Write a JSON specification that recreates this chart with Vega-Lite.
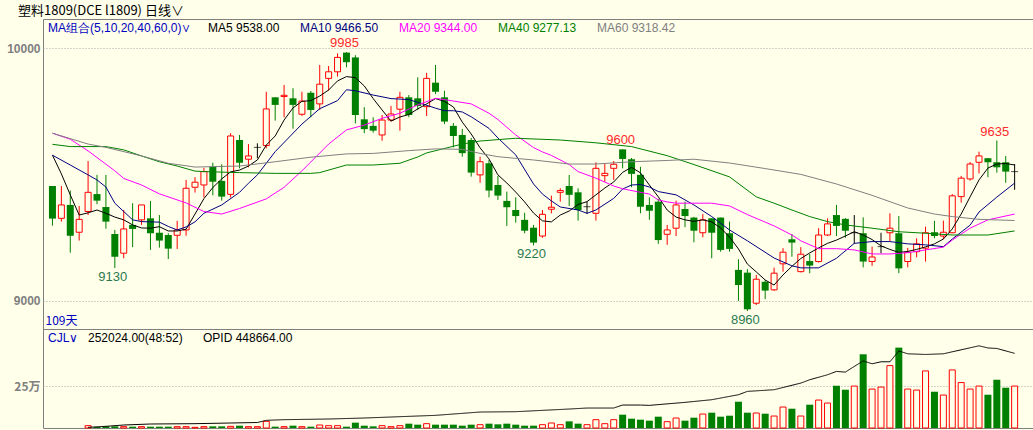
{
"$schema": "https://vega.github.io/schema/vega-lite/v6.json",
"autosize": "none",
"width": 990,
"height": 409,
"padding": {"left": 43, "top": 19, "right": 0, "bottom": 2},
"background": "#ffffea",
"config": {
  "view": {"stroke": "#808080", "strokeWidth": 1},
  "font": "Liberation Sans",
  "legend": {"labelFont": "Liberation Sans", "titleFont": "Liberation Sans", "labelFontSize": 12, "titleFontSize": 12, "titleFontWeight": "normal", "symbolSize": 0, "symbolOpacity": 0, "symbolStrokeWidth": 0, "labelOffset": 0, "padding": 0, "rowPadding": 0, "titleOrient": "left", "direction": "horizontal", "orient": "none", "titleLimit": 300, "labelLimit": 300, "columnPadding": 8, "titlePadding": 5}
},
"title": {"text": "塑料1809(DCE l1809)  日线∨", "anchor": "start", "frame": "group", "dx": -25, "dy": 15, "offset": 3, "baseline": "bottom", "font": "Noto Sans CJK SC", "fontSize": 13, "fontWeight": "normal", "color": "#000000"},
"datasets": {
"k": [
{"i":0,"o":9455,"h":9455,"l":9298,"c":9326,"d":"down","v":null},
{"i":1,"o":9327,"h":9455,"l":9314,"c":9380,"d":"up","v":null},
{"i":2,"o":9380,"h":9437,"l":9191,"c":9258,"d":"down","v":null},
{"i":3,"o":9272,"h":9376,"l":9239,"c":9323,"d":"up","v":null},
{"i":4,"o":9354,"h":9554,"l":9340,"c":9430,"d":"up","v":14000},
{"i":5,"o":9423,"h":9499,"l":9383,"c":9397,"d":"down","v":6000},
{"i":6,"o":9372,"h":9499,"l":9286,"c":9314,"d":"down","v":10000},
{"i":7,"o":9265,"h":9281,"l":9130,"c":9175,"d":"down","v":10000},
{"i":8,"o":9189,"h":9360,"l":9169,"c":9285,"d":"up","v":8000},
{"i":9,"o":9301,"h":9387,"l":9213,"c":9285,"d":"down","v":8000},
{"i":10,"o":9321,"h":9380,"l":9301,"c":9380,"d":"up","v":8000},
{"i":11,"o":9327,"h":9396,"l":9202,"c":9268,"d":"down","v":8000},
{"i":12,"o":9270,"h":9340,"l":9211,"c":9239,"d":"down","v":8000},
{"i":13,"o":9261,"h":9268,"l":9166,"c":9207,"d":"down","v":8000},
{"i":14,"o":9260,"h":9317,"l":9206,"c":9281,"d":"up","v":8000},
{"i":15,"o":9281,"h":9479,"l":9258,"c":9446,"d":"up","v":8000},
{"i":16,"o":9450,"h":9490,"l":9429,"c":9470,"d":"up","v":4000},
{"i":17,"o":9459,"h":9527,"l":9410,"c":9512,"d":"up","v":8000},
{"i":18,"o":9531,"h":9547,"l":9418,"c":9472,"d":"down","v":10000},
{"i":19,"o":9475,"h":9541,"l":9397,"c":9413,"d":"down","v":10000},
{"i":20,"o":9422,"h":9664,"l":9409,"c":9653,"d":"up","v":10000},
{"i":21,"o":9637,"h":9657,"l":9525,"c":9547,"d":"down","v":14000},
{"i":22,"o":9561,"h":9621,"l":9529,"c":9574,"d":"up","v":8000},
{"i":23,"o":9608,"h":9624,"l":9565,"c":9608,"d":"flat","v":8000},
{"i":24,"o":9615,"h":9828,"l":9604,"c":9760,"d":"up","v":40000},
{"i":25,"o":9806,"h":9807,"l":9714,"c":9776,"d":"down","v":8000},
{"i":26,"o":9809,"h":9855,"l":9727,"c":9814,"d":"up","v":8000},
{"i":27,"o":9802,"h":9842,"l":9682,"c":9776,"d":"down","v":14000},
{"i":28,"o":9739,"h":9828,"l":9732,"c":9791,"d":"up","v":8000},
{"i":29,"o":9824,"h":9831,"l":9727,"c":9756,"d":"down","v":8000},
{"i":30,"o":9780,"h":9934,"l":9756,"c":9858,"d":"up","v":18000},
{"i":31,"o":9881,"h":9930,"l":9832,"c":9907,"d":"up","v":14000},
{"i":32,"o":9907,"h":9980,"l":9888,"c":9964,"d":"up","v":14000},
{"i":33,"o":9983,"h":9985,"l":9925,"c":9945,"d":"down","v":8000},
{"i":34,"o":9964,"h":9973,"l":9703,"c":9736,"d":"down","v":32000},
{"i":35,"o":9719,"h":9767,"l":9664,"c":9680,"d":"down","v":14000},
{"i":36,"o":9693,"h":9727,"l":9666,"c":9674,"d":"down","v":10000},
{"i":37,"o":9657,"h":9736,"l":9634,"c":9716,"d":"up","v":14000},
{"i":38,"o":9716,"h":9772,"l":9710,"c":9740,"d":"up","v":8000},
{"i":39,"o":9759,"h":9828,"l":9674,"c":9806,"d":"up","v":14000},
{"i":40,"o":9806,"h":9815,"l":9727,"c":9736,"d":"down","v":26000},
{"i":41,"o":9802,"h":9885,"l":9756,"c":9772,"d":"down","v":20000},
{"i":42,"o":9769,"h":9903,"l":9732,"c":9881,"d":"up","v":26000},
{"i":43,"o":9864,"h":9934,"l":9819,"c":9828,"d":"down","v":20000},
{"i":44,"o":9806,"h":9832,"l":9700,"c":9710,"d":"down","v":20000},
{"i":45,"o":9693,"h":9704,"l":9608,"c":9653,"d":"down","v":20000},
{"i":46,"o":9657,"h":9681,"l":9571,"c":9585,"d":"down","v":14000},
{"i":47,"o":9637,"h":9645,"l":9492,"c":9508,"d":"down","v":20000},
{"i":48,"o":9499,"h":9571,"l":9468,"c":9551,"d":"up","v":20000},
{"i":49,"o":9545,"h":9558,"l":9410,"c":9437,"d":"down","v":26000},
{"i":50,"o":9459,"h":9495,"l":9400,"c":9417,"d":"down","v":22000},
{"i":51,"o":9396,"h":9433,"l":9297,"c":9371,"d":"down","v":26000},
{"i":52,"o":9360,"h":9410,"l":9310,"c":9336,"d":"down","v":20000},
{"i":53,"o":9321,"h":9349,"l":9268,"c":9278,"d":"down","v":14000},
{"i":54,"o":9290,"h":9301,"l":9220,"c":9231,"d":"down","v":14000},
{"i":55,"o":9257,"h":9360,"l":9250,"c":9343,"d":"up","v":20000},
{"i":56,"o":9363,"h":9417,"l":9347,"c":9371,"d":"up","v":30000},
{"i":57,"o":9430,"h":9446,"l":9393,"c":9437,"d":"up","v":20000},
{"i":58,"o":9455,"h":9499,"l":9376,"c":9420,"d":"down","v":40000},
{"i":59,"o":9430,"h":9446,"l":9318,"c":9360,"d":"down","v":26000},
{"i":60,"o":9373,"h":9393,"l":9344,"c":9373,"d":"flat","v":20000},
{"i":61,"o":9347,"h":9549,"l":9318,"c":9525,"d":"up","v":50000},
{"i":62,"o":9496,"h":9542,"l":9472,"c":9505,"d":"up","v":26000},
{"i":63,"o":9525,"h":9554,"l":9479,"c":9541,"d":"up","v":50000},
{"i":64,"o":9600,"h":9600,"l":9525,"c":9562,"d":"down","v":80000},
{"i":65,"o":9561,"h":9566,"l":9450,"c":9503,"d":"down","v":56000},
{"i":66,"o":9499,"h":9531,"l":9347,"c":9373,"d":"down","v":50000},
{"i":67,"o":9380,"h":9410,"l":9321,"c":9357,"d":"down","v":44000},
{"i":68,"o":9393,"h":9404,"l":9226,"c":9241,"d":"down","v":68000},
{"i":69,"o":9264,"h":9301,"l":9222,"c":9281,"d":"up","v":38000},
{"i":70,"o":9288,"h":9397,"l":9257,"c":9380,"d":"up","v":60000},
{"i":71,"o":9364,"h":9393,"l":9292,"c":9336,"d":"down","v":44000},
{"i":72,"o":9330,"h":9333,"l":9232,"c":9278,"d":"down","v":62000},
{"i":73,"o":9270,"h":9344,"l":9252,"c":9321,"d":"up","v":84000},
{"i":74,"o":9327,"h":9328,"l":9169,"c":9270,"d":"down","v":92000},
{"i":75,"o":9330,"h":9330,"l":9195,"c":9202,"d":"down","v":68000},
{"i":76,"o":9268,"h":9314,"l":9195,"c":9206,"d":"down","v":74000},
{"i":77,"o":9123,"h":9165,"l":9000,"c":9063,"d":"down","v":158000},
{"i":78,"o":9112,"h":9126,"l":8960,"c":8967,"d":"down","v":92000},
{"i":79,"o":8991,"h":9103,"l":8984,"c":9086,"d":"up","v":90000},
{"i":80,"o":9076,"h":9083,"l":9007,"c":9041,"d":"down","v":86000},
{"i":81,"o":9044,"h":9132,"l":9040,"c":9110,"d":"up","v":72000},
{"i":82,"o":9147,"h":9209,"l":9116,"c":9193,"d":"up","v":126000},
{"i":83,"o":9244,"h":9265,"l":9175,"c":9231,"d":"down","v":116000},
{"i":84,"o":9116,"h":9213,"l":9113,"c":9185,"d":"up","v":72000},
{"i":85,"o":9158,"h":9186,"l":9110,"c":9140,"d":"down","v":140000},
{"i":86,"o":9156,"h":9288,"l":9152,"c":9261,"d":"up","v":168000},
{"i":87,"o":9261,"h":9327,"l":9257,"c":9305,"d":"up","v":150000},
{"i":88,"o":9340,"h":9380,"l":9257,"c":9297,"d":"down","v":254000},
{"i":89,"o":9325,"h":9328,"l":9250,"c":9278,"d":"down","v":230000},
{"i":90,"o":9270,"h":9340,"l":9226,"c":9270,"d":"flat","v":252000},
{"i":91,"o":9268,"h":9331,"l":9133,"c":9156,"d":"down","v":443000},
{"i":92,"o":9156,"h":9215,"l":9139,"c":9174,"d":"up","v":234000},
{"i":93,"o":9215,"h":9270,"l":9189,"c":9215,"d":"flat","v":246000},
{"i":94,"o":9270,"h":9347,"l":9235,"c":9288,"d":"up","v":375000},
{"i":95,"o":9268,"h":9336,"l":9110,"c":9129,"d":"down","v":483000},
{"i":96,"o":9156,"h":9210,"l":9133,"c":9193,"d":"up","v":234000},
{"i":97,"o":9195,"h":9248,"l":9173,"c":9226,"d":"up","v":228000},
{"i":98,"o":9209,"h":9294,"l":9156,"c":9270,"d":"up","v":343000},
{"i":99,"o":9272,"h":9317,"l":9248,"c":9257,"d":"down","v":218000},
{"i":100,"o":9257,"h":9318,"l":9244,"c":9272,"d":"up","v":198000},
{"i":101,"o":9270,"h":9423,"l":9268,"c":9416,"d":"up","v":349000},
{"i":102,"o":9413,"h":9495,"l":9389,"c":9486,"d":"up","v":273000},
{"i":103,"o":9483,"h":9550,"l":9476,"c":9542,"d":"up","v":234000},
{"i":104,"o":9549,"h":9591,"l":9505,"c":9574,"d":"up","v":252000},
{"i":105,"o":9565,"h":9566,"l":9490,"c":9549,"d":"down","v":200000},
{"i":106,"o":9549,"h":9635,"l":9508,"c":9529,"d":"down","v":290000},
{"i":107,"o":9549,"h":9574,"l":9468,"c":9512,"d":"down","v":242000},
{"i":108,"o":9512,"h":9542,"l":9440,"c":9512,"d":"flat","v":252024}
],
"ma": [
{"i":0,"s":"MA5","v":9577},{"i":1,"s":"MA5","v":9503},{"i":2,"s":"MA5","v":9420},{"i":3,"s":"MA5","v":9340},{"i":4,"s":"MA5","v":9349},{"i":5,"s":"MA5","v":9360},{"i":6,"s":"MA5","v":9347},{"i":7,"s":"MA5","v":9332},{"i":8,"s":"MA5","v":9321},{"i":9,"s":"MA5","v":9301},{"i":10,"s":"MA5","v":9289},{"i":11,"s":"MA5","v":9288},{"i":12,"s":"MA5","v":9294},{"i":13,"s":"MA5","v":9277},{"i":14,"s":"MA5","v":9277},{"i":15,"s":"MA5","v":9284},{"i":16,"s":"MA5","v":9344},{"i":17,"s":"MA5","v":9405},{"i":18,"s":"MA5","v":9449},{"i":19,"s":"MA5","v":9483},{"i":20,"s":"MA5","v":9511},{"i":21,"s":"MA5","v":9518},{"i":22,"s":"MA5","v":9534},{"i":23,"s":"MA5","v":9558},{"i":24,"s":"MA5","v":9617},{"i":25,"s":"MA5","v":9653},{"i":26,"s":"MA5","v":9716},{"i":27,"s":"MA5","v":9764},{"i":28,"s":"MA5","v":9790},{"i":29,"s":"MA5","v":9793},{"i":30,"s":"MA5","v":9811},{"i":31,"s":"MA5","v":9835},{"i":32,"s":"MA5","v":9871},{"i":33,"s":"MA5","v":9888},{"i":34,"s":"MA5","v":9884},{"i":35,"s":"MA5","v":9851},{"i":36,"s":"MA5","v":9801},{"i":37,"s":"MA5","v":9756},{"i":38,"s":"MA5","v":9712},{"i":39,"s":"MA5","v":9728},{"i":40,"s":"MA5","v":9738},{"i":41,"s":"MA5","v":9760},{"i":42,"s":"MA5","v":9780},{"i":43,"s":"MA5","v":9801},{"i":44,"s":"MA5","v":9790},{"i":45,"s":"MA5","v":9768},{"i":46,"s":"MA5","v":9708},{"i":47,"s":"MA5","v":9661},{"i":48,"s":"MA5","v":9606},{"i":49,"s":"MA5","v":9562},{"i":50,"s":"MA5","v":9499},{"i":51,"s":"MA5","v":9467},{"i":52,"s":"MA5","v":9431},{"i":53,"s":"MA5","v":9392},{"i":54,"s":"MA5","v":9348},{"i":55,"s":"MA5","v":9317},{"i":56,"s":"MA5","v":9313},{"i":57,"s":"MA5","v":9340},{"i":58,"s":"MA5","v":9356},{"i":59,"s":"MA5","v":9382},{"i":60,"s":"MA5","v":9393},{"i":61,"s":"MA5","v":9420},{"i":62,"s":"MA5","v":9447},{"i":63,"s":"MA5","v":9471},{"i":64,"s":"MA5","v":9509},{"i":65,"s":"MA5","v":9529},{"i":66,"s":"MA5","v":9507},{"i":67,"s":"MA5","v":9459},{"i":68,"s":"MA5","v":9412},{"i":69,"s":"MA5","v":9360},{"i":70,"s":"MA5","v":9332},{"i":71,"s":"MA5","v":9321},{"i":72,"s":"MA5","v":9315},{"i":73,"s":"MA5","v":9321},{"i":74,"s":"MA5","v":9313},{"i":75,"s":"MA5","v":9289},{"i":76,"s":"MA5","v":9253},{"i":77,"s":"MA5","v":9206},{"i":78,"s":"MA5","v":9146},{"i":79,"s":"MA5","v":9115},{"i":80,"s":"MA5","v":9083},{"i":81,"s":"MA5","v":9063},{"i":82,"s":"MA5","v":9103},{"i":83,"s":"MA5","v":9137},{"i":84,"s":"MA5","v":9168},{"i":85,"s":"MA5","v":9190},{"i":86,"s":"MA5","v":9210},{"i":87,"s":"MA5","v":9228},{"i":88,"s":"MA5","v":9241},{"i":89,"s":"MA5","v":9257},{"i":90,"s":"MA5","v":9274},{"i":91,"s":"MA5","v":9261},{"i":92,"s":"MA5","v":9243},{"i":93,"s":"MA5","v":9218},{"i":94,"s":"MA5","v":9204},{"i":95,"s":"MA5","v":9192},{"i":96,"s":"MA5","v":9196},{"i":97,"s":"MA5","v":9204},{"i":98,"s":"MA5","v":9214},{"i":99,"s":"MA5","v":9226},{"i":100,"s":"MA5","v":9245},{"i":101,"s":"MA5","v":9285},{"i":102,"s":"MA5","v":9344},{"i":103,"s":"MA5","v":9412},{"i":104,"s":"MA5","v":9479},{"i":105,"s":"MA5","v":9526},{"i":106,"s":"MA5","v":9542},{"i":107,"s":"MA5","v":9544},{"i":108,"s":"MA5","v":9538},
{"i":0,"s":"MA10","v":9577},{"i":2,"s":"MA10","v":9538},{"i":4,"s":"MA10","v":9499},{"i":5,"s":"MA10","v":9479},{"i":6,"s":"MA10","v":9451},{"i":7,"s":"MA10","v":9387},{"i":9,"s":"MA10","v":9321},{"i":10,"s":"MA10","v":9314},{"i":12,"s":"MA10","v":9312},{"i":13,"s":"MA10","v":9295},{"i":14,"s":"MA10","v":9281},{"i":15,"s":"MA10","v":9293},{"i":16,"s":"MA10","v":9313},{"i":17,"s":"MA10","v":9347},{"i":19,"s":"MA10","v":9380},{"i":21,"s":"MA10","v":9430},{"i":22,"s":"MA10","v":9466},{"i":23,"s":"MA10","v":9499},{"i":25,"s":"MA10","v":9591},{"i":28,"s":"MA10","v":9700},{"i":30,"s":"MA10","v":9761},{"i":32,"s":"MA10","v":9793},{"i":33,"s":"MA10","v":9836},{"i":34,"s":"MA10","v":9832},{"i":36,"s":"MA10","v":9815},{"i":38,"s":"MA10","v":9801},{"i":40,"s":"MA10","v":9797},{"i":41,"s":"MA10","v":9786},{"i":43,"s":"MA10","v":9763},{"i":44,"s":"MA10","v":9753},{"i":45,"s":"MA10","v":9753},{"i":46,"s":"MA10","v":9748},{"i":47,"s":"MA10","v":9729},{"i":49,"s":"MA10","v":9683},{"i":50,"s":"MA10","v":9645},{"i":52,"s":"MA10","v":9578},{"i":54,"s":"MA10","v":9463},{"i":55,"s":"MA10","v":9423},{"i":56,"s":"MA10","v":9396},{"i":57,"s":"MA10","v":9372},{"i":59,"s":"MA10","v":9360},{"i":60,"s":"MA10","v":9347},{"i":61,"s":"MA10","v":9360},{"i":63,"s":"MA10","v":9406},{"i":64,"s":"MA10","v":9443},{"i":65,"s":"MA10","v":9459},{"i":66,"s":"MA10","v":9461},{"i":67,"s":"MA10","v":9451},{"i":68,"s":"MA10","v":9433},{"i":70,"s":"MA10","v":9420},{"i":72,"s":"MA10","v":9380},{"i":74,"s":"MA10","v":9334},{"i":76,"s":"MA10","v":9281},{"i":78,"s":"MA10","v":9238},{"i":81,"s":"MA10","v":9170},{"i":83,"s":"MA10","v":9139},{"i":84,"s":"MA10","v":9131},{"i":86,"s":"MA10","v":9131},{"i":88,"s":"MA10","v":9169},{"i":90,"s":"MA10","v":9228},{"i":92,"s":"MA10","v":9235},{"i":94,"s":"MA10","v":9235},{"i":96,"s":"MA10","v":9226},{"i":98,"s":"MA10","v":9222},{"i":100,"s":"MA10","v":9215},{"i":101,"s":"MA10","v":9245},{"i":103,"s":"MA10","v":9300},{"i":104,"s":"MA10","v":9352},{"i":106,"s":"MA10","v":9411},{"i":108,"s":"MA10","v":9466.5},
{"i":0,"s":"MA20","v":9664},{"i":2,"s":"MA20","v":9640},{"i":4,"s":"MA20","v":9594},{"i":7,"s":"MA20","v":9515},{"i":8,"s":"MA20","v":9485},{"i":10,"s":"MA20","v":9459},{"i":12,"s":"MA20","v":9424},{"i":15,"s":"MA20","v":9388},{"i":17,"s":"MA20","v":9354},{"i":19,"s":"MA20","v":9344},{"i":21,"s":"MA20","v":9366},{"i":24,"s":"MA20","v":9404},{"i":26,"s":"MA20","v":9450},{"i":28,"s":"MA20","v":9515},{"i":29,"s":"MA20","v":9550},{"i":31,"s":"MA20","v":9621},{"i":33,"s":"MA20","v":9677},{"i":35,"s":"MA20","v":9696},{"i":37,"s":"MA20","v":9723},{"i":39,"s":"MA20","v":9743},{"i":41,"s":"MA20","v":9776},{"i":43,"s":"MA20","v":9802},{"i":44,"s":"MA20","v":9797},{"i":47,"s":"MA20","v":9780},{"i":49,"s":"MA20","v":9743},{"i":50,"s":"MA20","v":9718},{"i":52,"s":"MA20","v":9657},{"i":54,"s":"MA20","v":9607},{"i":55,"s":"MA20","v":9590},{"i":56,"s":"MA20","v":9576},{"i":58,"s":"MA20","v":9540},{"i":59,"s":"MA20","v":9512},{"i":61,"s":"MA20","v":9486},{"i":63,"s":"MA20","v":9455},{"i":64,"s":"MA20","v":9444},{"i":67,"s":"MA20","v":9423},{"i":68,"s":"MA20","v":9400},{"i":69,"s":"MA20","v":9392},{"i":70,"s":"MA20","v":9387},{"i":74,"s":"MA20","v":9387},{"i":76,"s":"MA20","v":9376},{"i":78,"s":"MA20","v":9342},{"i":81,"s":"MA20","v":9297},{"i":83,"s":"MA20","v":9261},{"i":84,"s":"MA20","v":9238},{"i":86,"s":"MA20","v":9207},{"i":88,"s":"MA20","v":9207},{"i":90,"s":"MA20","v":9202},{"i":92,"s":"MA20","v":9186},{"i":94,"s":"MA20","v":9186},{"i":96,"s":"MA20","v":9191},{"i":98,"s":"MA20","v":9202},{"i":100,"s":"MA20","v":9213},{"i":101,"s":"MA20","v":9241},{"i":103,"s":"MA20","v":9288},{"i":105,"s":"MA20","v":9321},{"i":108,"s":"MA20","v":9344},
{"i":0,"s":"MA40","v":9620},{"i":2,"s":"MA40","v":9611},{"i":6,"s":"MA40","v":9611},{"i":8,"s":"MA40","v":9598},{"i":10,"s":"MA40","v":9574},{"i":12,"s":"MA40","v":9551},{"i":14,"s":"MA40","v":9534},{"i":16,"s":"MA40","v":9514},{"i":17,"s":"MA40","v":9512},{"i":21,"s":"MA40","v":9508},{"i":25,"s":"MA40","v":9505},{"i":29,"s":"MA40","v":9505},{"i":30,"s":"MA40","v":9508},{"i":33,"s":"MA40","v":9538},{"i":36,"s":"MA40","v":9538},{"i":39,"s":"MA40","v":9545},{"i":41,"s":"MA40","v":9570},{"i":42,"s":"MA40","v":9586},{"i":46,"s":"MA40","v":9621},{"i":48,"s":"MA40","v":9633},{"i":52,"s":"MA40","v":9644},{"i":57,"s":"MA40","v":9637},{"i":61,"s":"MA40","v":9626},{"i":65,"s":"MA40","v":9611},{"i":69,"s":"MA40","v":9575},{"i":72,"s":"MA40","v":9540},{"i":76,"s":"MA40","v":9491},{"i":79,"s":"MA40","v":9412},{"i":81,"s":"MA40","v":9387},{"i":83,"s":"MA40","v":9360},{"i":85,"s":"MA40","v":9334},{"i":87,"s":"MA40","v":9314},{"i":89,"s":"MA40","v":9301},{"i":92,"s":"MA40","v":9288},{"i":95,"s":"MA40","v":9274},{"i":98,"s":"MA40","v":9268},{"i":101,"s":"MA40","v":9261},{"i":105,"s":"MA40","v":9261},{"i":108,"s":"MA40","v":9277.13},
{"i":0,"s":"MA60","v":9664},{"i":4,"s":"MA60","v":9621},{"i":6,"s":"MA60","v":9608},{"i":10,"s":"MA60","v":9574},{"i":13,"s":"MA60","v":9545},{"i":16,"s":"MA60","v":9530},{"i":21,"s":"MA60","v":9534},{"i":25,"s":"MA60","v":9551},{"i":29,"s":"MA60","v":9569},{"i":33,"s":"MA60","v":9582},{"i":36,"s":"MA60","v":9584},{"i":40,"s":"MA60","v":9595},{"i":43,"s":"MA60","v":9602},{"i":46,"s":"MA60","v":9600},{"i":48,"s":"MA60","v":9584},{"i":50,"s":"MA60","v":9571},{"i":54,"s":"MA60","v":9558},{"i":58,"s":"MA60","v":9542},{"i":61,"s":"MA60","v":9542},{"i":65,"s":"MA60","v":9551},{"i":69,"s":"MA60","v":9556},{"i":72,"s":"MA60","v":9561},{"i":76,"s":"MA60","v":9546},{"i":80,"s":"MA60","v":9524},{"i":84,"s":"MA60","v":9501},{"i":88,"s":"MA60","v":9463},{"i":92,"s":"MA60","v":9418},{"i":96,"s":"MA60","v":9368},{"i":99,"s":"MA60","v":9344},{"i":101,"s":"MA60","v":9334},{"i":104,"s":"MA60","v":9323},{"i":108,"s":"MA60","v":9318.42}
],
"oi": [
{"i":4,"s":"OPID","v":4000},{"i":6,"s":"OPID","v":10000},{"i":8,"s":"OPID","v":18000},{"i":11,"s":"OPID","v":24000},{"i":16,"s":"OPID","v":26000},{"i":20,"s":"OPID","v":30000},{"i":23,"s":"OPID","v":33000},{"i":24,"s":"OPID","v":46000},{"i":26,"s":"OPID","v":50000},{"i":31,"s":"OPID","v":54000},{"i":35,"s":"OPID","v":60000},{"i":38,"s":"OPID","v":66000},{"i":43,"s":"OPID","v":76000},{"i":48,"s":"OPID","v":96000},{"i":52,"s":"OPID","v":98000},{"i":55,"s":"OPID","v":106000},{"i":58,"s":"OPID","v":114000},{"i":60,"s":"OPID","v":120000},{"i":63,"s":"OPID","v":120000},{"i":64,"s":"OPID","v":138000},{"i":66,"s":"OPID","v":138000},{"i":67,"s":"OPID","v":136000},{"i":71,"s":"OPID","v":154000},{"i":74,"s":"OPID","v":170000},{"i":77,"s":"OPID","v":200000},{"i":78,"s":"OPID","v":220000},{"i":81,"s":"OPID","v":230000},{"i":84,"s":"OPID","v":270000},{"i":85,"s":"OPID","v":290000},{"i":87,"s":"OPID","v":320000},{"i":88,"s":"OPID","v":340000},{"i":89,"s":"OPID","v":336000},{"i":90,"s":"OPID","v":370000},{"i":91,"s":"OPID","v":403000},{"i":92,"s":"OPID","v":386000},{"i":93,"s":"OPID","v":398000},{"i":94,"s":"OPID","v":398000},{"i":95,"s":"OPID","v":463000},{"i":96,"s":"OPID","v":446000},{"i":98,"s":"OPID","v":442000},{"i":100,"s":"OPID","v":446000},{"i":102,"s":"OPID","v":470000},{"i":104,"s":"OPID","v":494000},{"i":105,"s":"OPID","v":481000},{"i":106,"s":"OPID","v":478000},{"i":108,"s":"OPID","v":448664}
],
"ann": [
{"i":33,"v":9985,"k":"hi"},{"i":64,"v":9600,"k":"hi"},{"i":106,"v":9635,"k":"hi"},
{"i":7,"v":9130,"k":"lo"},{"i":54,"v":9220,"k":"lo"},{"i":78,"v":8960,"k":"lo"}
]
},
"encoding": {"x": {"field": "i", "type": "quantitative", "scale": {"domain": [-0.5, 109.5], "nice": false, "zero": false},
  "axis": {"orient": "bottom", "offset": -99, "labels": false, "ticks": false, "domain": true, "domainColor": "#808080", "domainWidth": 1, "grid": false, "title": "109天", "titleColor": "#0000c0", "titleFont": "Noto Sans CJK SC", "titleFontWeight": "normal", "titleFontSize": 12, "titleAnchor": "start", "titleAlign": "left", "titleBaseline": "alphabetic", "titleX": 2, "titleY": -5}}},
"resolve": {"scale": {"y": "independent"}},
"layer": [
    {"data": {"name": "k"}, "mark": {"type": "rule", "strokeWidth": 1},
     "encoding": {
       "y": {"field": "l", "type": "quantitative", "scale": {"domain": [8889, 10116], "range": [310, 0], "nice": false, "zero": false},
             "axis": {"orient": "left", "values": [9000, 10000], "format": "d", "ticks": false, "domain": false, "labelPadding": 3, "labelColor": "#808080", "labelFontSize": 12, "labelFontWeight": "bold", "labelFont": "Liberation Sans", "grid": true, "gridColor": "#a8a8a8", "gridDash": [1, 2], "title": null}},
       "y2": {"field": "h"},
       "stroke": {"field": "d", "type": "nominal", "scale": {"domain": ["up", "down", "flat"], "range": ["#ff0000", "#008000", "#000000"]}, "legend": null}}},
    {"data": {"name": "k"}, "transform": [{"filter": "datum.d == 'down'"}],
     "mark": {"type": "bar", "width": 7, "fill": "#008000"},
     "encoding": {"y": {"field": "o", "type": "quantitative", "scale": {"domain": [8889, 10116], "range": [310, 0], "nice": false, "zero": false}, "axis": null}, "y2": {"field": "c"}}},
    {"data": {"name": "k"}, "transform": [{"filter": "datum.d == 'up'"}],
     "mark": {"type": "bar", "width": 6, "fill": "#ffffea", "stroke": "#ff0000", "strokeWidth": 1},
     "encoding": {"y": {"field": "o", "type": "quantitative", "scale": {"domain": [8889, 10116], "range": [310, 0], "nice": false, "zero": false}, "axis": null}, "y2": {"field": "c"}}},
    {"data": {"name": "k"}, "transform": [{"filter": "datum.d == 'flat'"}],
     "mark": {"type": "tick", "orient": "horizontal", "size": 7, "thickness": 1, "color": "#000000"},
     "encoding": {"y": {"field": "o", "type": "quantitative", "scale": {"domain": [8889, 10116], "range": [310, 0], "nice": false, "zero": false}, "axis": null}}},
    {"data": {"name": "ma"}, "mark": {"type": "line", "strokeWidth": 1},
     "encoding": {
       "y": {"field": "v", "type": "quantitative", "scale": {"domain": [8889, 10116], "range": [310, 0], "nice": false, "zero": false}, "axis": null},
       "color": {"field": "s", "type": "nominal", "scale": {"domain": ["MA5", "MA10", "MA20", "MA40", "MA60"], "range": ["#000000", "#000080", "#ff00ff", "#008000", "#808080"]},
         "legend": {"title": "MA组合(5,10,20,40,60,0)∨", "titleColor": "#0000c0", "legendX": 5, "legendY": 3,
           "labelExpr": "datum.value == 'MA5' ? 'MA5 9538.00' : datum.value == 'MA10' ? 'MA10 9466.50' : datum.value == 'MA20' ? 'MA20 9344.00' : datum.value == 'MA40' ? 'MA40 9277.13' : 'MA60 9318.42'",
           "encode": {"labels": {"update": {"fill": {"signal": "datum.value == 'MA5' ? '#000000' : datum.value == 'MA10' ? '#000080' : datum.value == 'MA20' ? '#ff00ff' : datum.value == 'MA40' ? '#008000' : '#808080'"}}}}}},
       "order": {"field": "i", "type": "quantitative"}}},
    {"data": {"name": "ann"}, "transform": [{"filter": "datum.k == 'hi'"}],
     "mark": {"type": "text", "baseline": "alphabetic", "align": "center", "dy": -5, "dx": -2, "fontSize": 13, "color": "#ff2a2a", "font": "Liberation Sans"},
     "encoding": {"y": {"field": "v", "type": "quantitative", "scale": {"domain": [8889, 10116], "range": [310, 0], "nice": false, "zero": false}, "axis": null}, "text": {"field": "v", "type": "quantitative", "format": "d"}}},
    {"data": {"name": "ann"}, "transform": [{"filter": "datum.k == 'lo'"}],
     "mark": {"type": "text", "baseline": "alphabetic", "align": "center", "dy": 13, "dx": -2, "fontSize": 13, "color": "#2a7a50", "font": "Liberation Sans"},
     "encoding": {"y": {"field": "v", "type": "quantitative", "scale": {"domain": [8889, 10116], "range": [310, 0], "nice": false, "zero": false}, "axis": null}, "text": {"field": "v", "type": "quantitative", "format": "d"}}},
    {"data": {"name": "k"}, "transform": [{"filter": "datum.d == 'down' && datum.v != null"}],
     "mark": {"type": "bar", "width": 7, "fill": "#008000"},
     "encoding": {"y": {"field": "v", "type": "quantitative", "scale": {"domain": [0, 595000], "range": [409, 310], "nice": false, "zero": true},
        "axis": {"orient": "left", "values": [250000], "labelExpr": "'25万'", "ticks": false, "domain": false, "labelPadding": 3, "labelColor": "#808080", "labelFontSize": 12, "labelFontWeight": "bold", "labelFont": "Noto Sans CJK SC", "grid": true, "gridColor": "#a8a8a8", "gridDash": [1, 2], "title": null}}}},
    {"data": {"name": "k"}, "transform": [{"filter": "datum.d != 'down' && datum.v != null"}],
     "mark": {"type": "bar", "width": 6, "fill": "#ffffea", "stroke": "#ff0000", "strokeWidth": 1},
     "encoding": {"y": {"field": "v", "type": "quantitative", "scale": {"domain": [0, 595000], "range": [409, 310], "nice": false, "zero": true}, "axis": null}}},
    {"data": {"name": "oi"}, "mark": {"type": "line", "strokeWidth": 1, "color": "#000000"},
     "encoding": {
       "y": {"field": "v", "type": "quantitative", "scale": {"domain": [0, 595000], "range": [409, 310], "nice": false, "zero": true}, "axis": null},
       "strokeDash": {"field": "s", "type": "nominal", "scale": {"domain": ["CJL", "OPID"], "range": [[1, 0], [1, 0]]},
         "legend": {"title": "CJL∨", "titleColor": "#0000c0", "legendX": 5, "legendY": 313, "labelColor": "#000000", "titlePadding": -3,
           "labelExpr": "datum.value == 'CJL' ? '252024.00(48:52)' : 'OPID 448664.00'"}},
       "order": {"field": "i", "type": "quantitative"}}}
]
}
